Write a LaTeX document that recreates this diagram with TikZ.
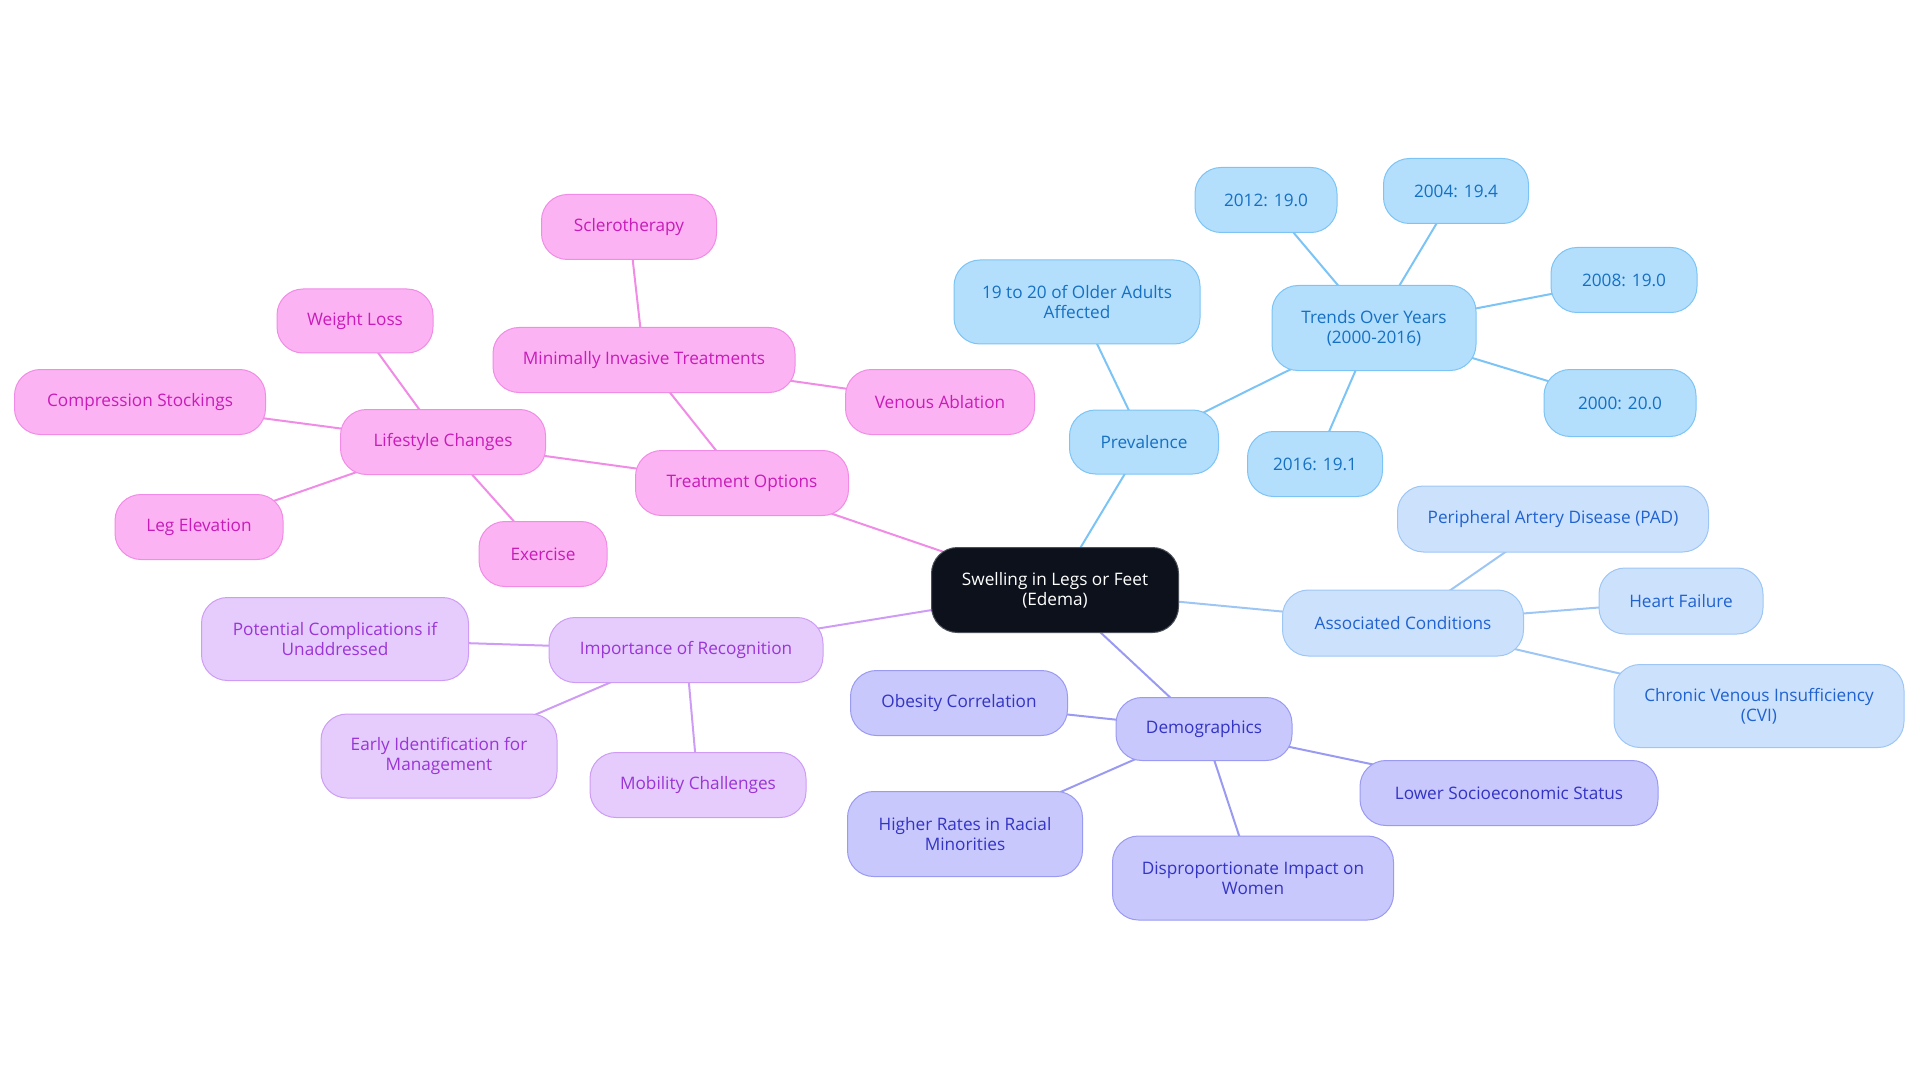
\documentclass[tikz,border=0pt]{standalone}
\usepackage{fontspec}
\setmainfont{Open Sans}
\usetikzlibrary{backgrounds}
\definecolor{rootfill}{HTML}{0C111B}
\definecolor{rootdraw}{HTML}{4A4F58}
\definecolor{pvfill}{HTML}{B3DFFD}
\definecolor{pvdraw}{HTML}{7CC4F5}
\definecolor{pvtext}{HTML}{1670C2}
\definecolor{acfill}{HTML}{CCE2FC}
\definecolor{acdraw}{HTML}{9EC6F5}
\definecolor{actext}{HTML}{2062D0}
\definecolor{dmfill}{HTML}{C8C8FC}
\definecolor{dmdraw}{HTML}{9A9AF2}
\definecolor{dmtext}{HTML}{3434C4}
\definecolor{imfill}{HTML}{E5CCFC}
\definecolor{imdraw}{HTML}{CE9CF5}
\definecolor{imtext}{HTML}{9A35D6}
\definecolor{trfill}{HTML}{FCB3F3}
\definecolor{trdraw}{HTML}{F08CE6}
\definecolor{trtext}{HTML}{C81CB8}
\tikzset{
  box/.style={rectangle, rounded corners=26pt, inner sep=0pt, align=center,
    line width=1pt, font=\fontsize{17.2}{20}\selectfont},
  rootbox/.style={box, fill=rootfill, draw=rootdraw, text=white},
  pvbox/.style={box, fill=pvfill, draw=pvdraw, text=pvtext},
  acbox/.style={box, fill=acfill, draw=acdraw, text=actext},
  dmbox/.style={box, fill=dmfill, draw=dmdraw, text=dmtext},
  imbox/.style={box, fill=imfill, draw=imdraw, text=imtext},
  trbox/.style={box, fill=trfill, draw=trdraw, text=trtext},
  sz/.style 2 args={minimum width=#1pt, minimum height=#2pt},
  pvline/.style={draw=pvdraw, line width=2pt},
  acline/.style={draw=acdraw, line width=2pt},
  dmline/.style={draw=dmdraw, line width=2pt},
  imline/.style={draw=imdraw, line width=2pt},
  trline/.style={draw=trdraw, line width=2pt},
}
\begin{document}
\begin{tikzpicture}[x=1pt, y=-1pt]
\useasboundingbox (0,0) rectangle (1920,1083);
% root
\node[rootbox, sz={247}{85}] (root) at (1055,590) {Swelling in Legs or Feet\\(Edema)};
% prevalence branch
\node[pvbox, sz={149}{64}] (prev) at (1144,442) {Prevalence};
\node[pvbox, sz={246}{84}] (older) at (1077,302) {19 to 20 of Older Adults\\Affected};
\node[pvbox, sz={204}{85}] (trends) at (1374,328) {Trends Over Years\\(2000-2016)};
\node[pvbox, sz={142}{65}] (y2012) at (1266,200) {2012: 19.0};
\node[pvbox, sz={145}{65}] (y2004) at (1456,191) {2004: 19.4};
\node[pvbox, sz={146}{65}] (y2008) at (1624,280) {2008: 19.0};
\node[pvbox, sz={152}{67}] (y2000) at (1620,403) {2000: 20.0};
\node[pvbox, sz={135}{65}] (y2016) at (1315,464) {2016: 19.1};
% associated conditions
\node[acbox, sz={241}{66}] (assoc) at (1403,623) {Associated Conditions};
\node[acbox, sz={311}{66}] (pad) at (1553,519) {Peripheral Artery Disease (PAD)};
\node[acbox, sz={164}{66}] (hf) at (1681,601) {Heart Failure};
\node[acbox, sz={290}{83}] (cvi) at (1759,706) {Chronic Venous Insufficiency\\(CVI)};
% demographics
\node[dmbox, sz={176}{63}] (demo) at (1204,729) {Demographics};
\node[dmbox, sz={217}{65}] (obes) at (959,703) {Obesity Correlation};
\node[dmbox, sz={298}{65}] (lower) at (1509,793) {Lower Socioeconomic Status};
\node[dmbox, sz={235}{85}] (higher) at (965,834) {Higher Rates in Racial\\Minorities};
\node[dmbox, sz={281}{84}] (dispr) at (1253,878) {Disproportionate Impact on\\Women};
% importance of recognition
\node[imbox, sz={274}{65}] (imp) at (686,650) {Importance of Recognition};
\node[imbox, sz={267}{83}] (pot) at (335,639) {Potential Complications if\\Unaddressed};
\node[imbox, sz={236}{84}] (early) at (439,756) {Early Identification for\\Management};
\node[imbox, sz={216}{65}] (mob) at (698,785) {Mobility Challenges};
% treatment options
\node[trbox, sz={213}{65}] (treat) at (742,483) {Treatment Options};
\node[trbox, sz={302}{65}] (mini) at (644,360) {Minimally Invasive Treatments};
\node[trbox, sz={175}{65}] (scler) at (629,227) {Sclerotherapy};
\node[trbox, sz={189}{65}] (venous) at (940,402) {Venous Ablation};
\node[trbox, sz={205}{65}] (life) at (443,442) {Lifestyle Changes};
\node[trbox, sz={156}{64}] (weight) at (355,321) {Weight Loss};
\node[trbox, sz={251}{65}] (comp) at (140,402) {Compression Stockings};
\node[trbox, sz={168}{65}] (leg) at (199,527) {Leg Elevation};
\node[trbox, sz={128}{65}] (exer) at (543,554) {Exercise};
% connectors
\begin{pgfonlayer}{background}
\draw[pvline] (root.center) -- (prev.center);
\draw[pvline] (prev.center) -- (older.center);
\draw[pvline] (prev.center) -- (trends.center);
\draw[pvline] (trends.center) -- (y2012.center);
\draw[pvline] (trends.center) -- (y2004.center);
\draw[pvline] (trends.center) -- (y2008.center);
\draw[pvline] (trends.center) -- (y2000.center);
\draw[pvline] (trends.center) -- (y2016.center);
\draw[acline] (root.center) -- (assoc.center);
\draw[acline] (assoc.center) -- (pad.center);
\draw[acline] (assoc.center) -- (hf.center);
\draw[acline] (assoc.center) -- (cvi.center);
\draw[dmline] (root.center) -- (demo.center);
\draw[dmline] (demo.center) -- (obes.center);
\draw[dmline] (demo.center) -- (lower.center);
\draw[dmline] (demo.center) -- (higher.center);
\draw[dmline] (demo.center) -- (dispr.center);
\draw[imline] (root.center) -- (imp.center);
\draw[imline] (imp.center) -- (pot.center);
\draw[imline] (imp.center) -- (early.center);
\draw[imline] (imp.center) -- (mob.center);
\draw[trline] (root.center) -- (treat.center);
\draw[trline] (treat.center) -- (mini.center);
\draw[trline] (mini.center) -- (scler.center);
\draw[trline] (mini.center) -- (venous.center);
\draw[trline] (treat.center) -- (life.center);
\draw[trline] (life.center) -- (weight.center);
\draw[trline] (life.center) -- (comp.center);
\draw[trline] (life.center) -- (leg.center);
\draw[trline] (life.center) -- (exer.center);
\end{pgfonlayer}
\end{tikzpicture}
\end{document}
